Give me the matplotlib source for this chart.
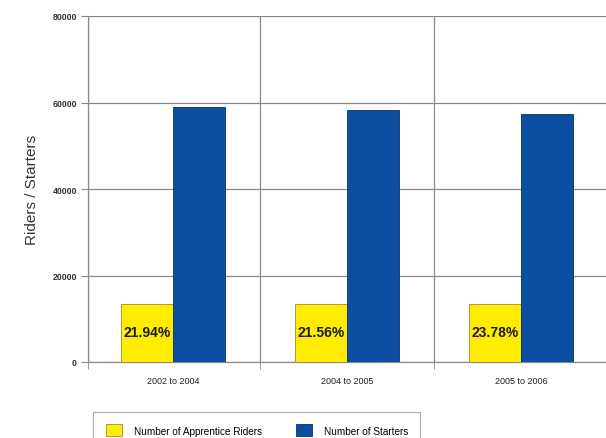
import matplotlib
matplotlib.use("Agg")
import matplotlib.pyplot as plt
import numpy as np

plt.rcParams["font.family"] = ["Liberation Sans", "DejaVu Sans"]

categories = ["2002 to 2004", "2004 to 2005", "2005 to 2006"]
apprentice_riders = [13300, 13400, 13350]
starters = [58950, 58350, 57450]
pct_labels = ["21.94%", "21.56%", "23.78%"]
series_names = ["Number of Apprentice Riders", "Number of Starters"]
yticks = [0, 20000, 40000, 60000, 80000]

W, H = 606, 439
fig = plt.figure(figsize=(W / 100, H / 100), dpi=100)
ax = fig.add_axes([88 / W, (H - 363) / H, 520 / W, 346 / H])

x = np.arange(len(categories))
bw = 0.30
yellow = "#ffec00"
blue = "#0b4ea2"
b1 = ax.bar(x - bw / 2, apprentice_riders, bw, color=yellow, edgecolor="#9a8f30",
            linewidth=0.6, zorder=3, label=series_names[0])
b2 = ax.bar(x + bw / 2, starters, bw, color=blue, edgecolor="#08306a",
            linewidth=0.6, zorder=3, label=series_names[1])

for xi, lab in zip(x, pct_labels):
    ax.text(xi - bw / 2, 7000, lab, ha="center", va="center", fontsize=10,
            fontweight="bold", color="#1a1a1a", zorder=4)

ax.set_xlim(-0.487, 2.5)
ax.set_ylim(0, 80000)
ax.set_yticks(yticks)
ax.set_yticklabels([str(v) for v in yticks], fontsize=6.3, color="#333333", fontweight="bold")
ax.set_xticks(x)
ax.set_xticklabels(categories, fontsize=6.5, color="#222222")
ax.tick_params(axis="x", length=0, pad=10)
ax.set_xticks([-0.487, 0.5, 1.5], minor=True)
ax.tick_params(axis="x", which="minor", length=5, color="#888888", direction="out")
ax.tick_params(axis="y", length=5, color="#888888", direction="out", pad=3)

ax.grid(axis="y", color="#8a8a8a", linewidth=0.9, zorder=1)
ax.grid(axis="x", which="minor", color="#8a8a8a", linewidth=0.9, zorder=1)
for side in ["top", "right"]:
    ax.spines[side].set_visible(False)
ax.spines["left"].set_color("#8a8a8a")
ax.spines["bottom"].set_color("#8a8a8a")
ax.spines["left"].set_linewidth(0.9)
ax.spines["bottom"].set_linewidth(0.9)

ax.set_ylabel("Riders / Starters", fontsize=11, color="#333333", labelpad=10)

leg = fig.legend(handles=[b1, b2], loc="upper left",
                 bbox_to_anchor=(93 / W, 1 - 413 / H), ncol=2, fontsize=7.2,
                 frameon=True, fancybox=False, edgecolor="#999999",
                 handlelength=1.6, handleheight=1.4, columnspacing=3.4,
                 borderpad=1.25, borderaxespad=0, handletextpad=1.2)
leg.get_frame().set_linewidth(0.8)

fig.savefig("out.png", dpi=100)
